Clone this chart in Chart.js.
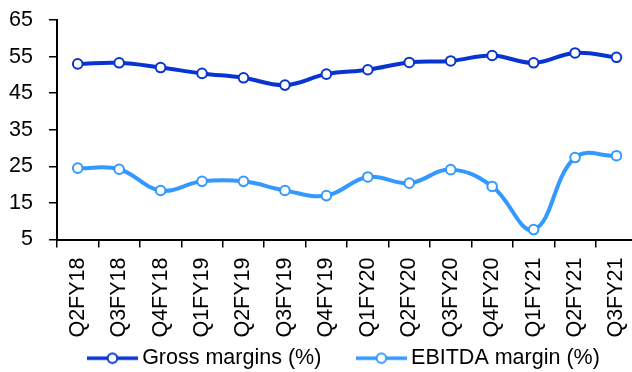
<!DOCTYPE html>
<html>
<head>
<meta charset="utf-8">
<script src="https://cdn.jsdelivr.net/npm/chart.js@4.4.1/dist/chart.umd.min.js"></script>
<style>
  html, body { margin: 0; padding: 0; background: #fff; overflow: hidden; }
  #wrap { width: 644px; height: 372px; }
</style>
</head>
<body>
<div id="wrap"><canvas id="c" width="644" height="372"></canvas></div>
<script>
// Quarterly margin trend
const quarters = ['Q2FY18','Q3FY18','Q4FY18','Q1FY19','Q2FY19','Q3FY19','Q4FY19',
                  'Q1FY20','Q2FY20','Q3FY20','Q4FY20','Q1FY21','Q2FY21','Q3FY21'];
const grossMargins = [53.0, 53.3, 52.0, 50.4, 49.2, 47.2, 50.2, 51.4, 53.4, 53.8, 55.3, 53.3, 56.0, 54.8];
const ebitdaMargins = [24.5, 24.2, 18.4, 20.9, 20.9, 18.4, 17.0, 22.1, 20.4, 24.1, 19.5, 7.7, 27.4, 27.9];
const yTicks = [5, 15, 25, 35, 45, 55, 65];

const GROSS = '#0835CF';
const EBITDA = '#3399FF';
const FONT = "'Liberation Sans', Arial, sans-serif";

// Legend symbol: short line with a hollow circle marker
function legendSymbol(color) {
  const cv = document.createElement('canvas');
  cv.width = 51; cv.height = 14;
  const g = cv.getContext('2d');
  g.strokeStyle = color;
  g.lineWidth = 3.5;
  g.beginPath(); g.moveTo(0, 7); g.lineTo(51, 7); g.stroke();
  g.fillStyle = '#fff';
  g.lineWidth = 2;
  g.beginPath(); g.arc(25.5, 7, 4.8, 0, Math.PI * 2); g.fill(); g.stroke();
  return cv;
}
const symbols = [legendSymbol(GROSS), legendSymbol(EBITDA)];

// Centre the legend under the plot area rather than the whole canvas
const legendUnderPlot = {
  id: 'legendUnderPlot',
  afterLayout(chart) {
    const lg = chart.legend;
    const area = chart.chartArea;
    const shift = (area.left + area.right) / 2 - (lg.left + lg.right) / 2 - 0.5;
    lg.left += shift;
    lg.right += shift;
  }
};

new Chart(document.getElementById('c'), {
  type: 'line',
  plugins: [legendUnderPlot],
  data: {
    labels: quarters,
    datasets: [
      {
        label: 'Gross margins (%)',
        data: grossMargins,
        borderColor: GROSS,
        borderWidth: 4,
        tension: 0.4,
        pointRadius: 4.8,
        pointBorderWidth: 2,
        pointBackgroundColor: '#fff',
        pointBorderColor: GROSS
      },
      {
        label: 'EBITDA margin (%)',
        data: ebitdaMargins,
        borderColor: EBITDA,
        borderWidth: 4,
        tension: 0.4,
        pointRadius: 4.8,
        pointBorderWidth: 2,
        pointBackgroundColor: '#fff',
        pointBorderColor: EBITDA
      }
    ]
  },
  options: {
    responsive: false,
    animation: false,
    clip: false,
    layout: { padding: { top: 20, right: 0, bottom: -7, left: 0 } },
    plugins: {
      tooltip: { enabled: false },
      legend: {
        position: 'bottom',
        align: 'center',
        labels: {
          usePointStyle: true,
          pointStyleWidth: 38,
          padding: 41,
          color: '#000',
          font: { family: FONT, size: 21.5 },
          generateLabels(chart) {
            const items = Chart.defaults.plugins.legend.labels.generateLabels(chart);
            items.forEach((it, i) => { it.pointStyle = symbols[i]; });
            return items;
          }
        }
      }
    },
    scales: {
      x: {
        offset: true,
        grid: {
          offset: true,
          drawOnChartArea: false,
          drawTicks: true,
          tickLength: 8,
          color: '#000',
          lineWidth: 1.5
        },
        border: { color: '#000', width: 2 },
        ticks: {
          color: '#000',
          font: { family: FONT, size: 21.5 },
          minRotation: 90,
          maxRotation: 90,
          padding: 10,
          autoSkip: false
        },
        afterFit(scale) {
          scale.height = 67;
          scale.paddingLeft = 0;
          scale.paddingRight = 0;
          // let the rotated labels run down past the scale box
          scale._computeLabelArea = () => ({ top: scale.top, left: 0, bottom: scale.chart.height, right: scale.chart.width });
        }
      },
      y: {
        min: 5,
        max: 65,
        afterBuildTicks(scale) { scale.ticks = yTicks.map(v => ({ value: v })); },
        grid: {
          drawOnChartArea: false,
          drawTicks: true,
          tickLength: 8,
          color: '#000',
          lineWidth: 1.5
        },
        border: { color: '#000', width: 2 },
        ticks: {
          color: '#000',
          font: { family: FONT, size: 21.5 },
          padding: 16
        },
        afterFit(scale) {
          scale.width = 57;
          scale.paddingTop = 0;
          scale.paddingBottom = 0;
        }
      }
    }
  }
});
</script>
</body>
</html>
